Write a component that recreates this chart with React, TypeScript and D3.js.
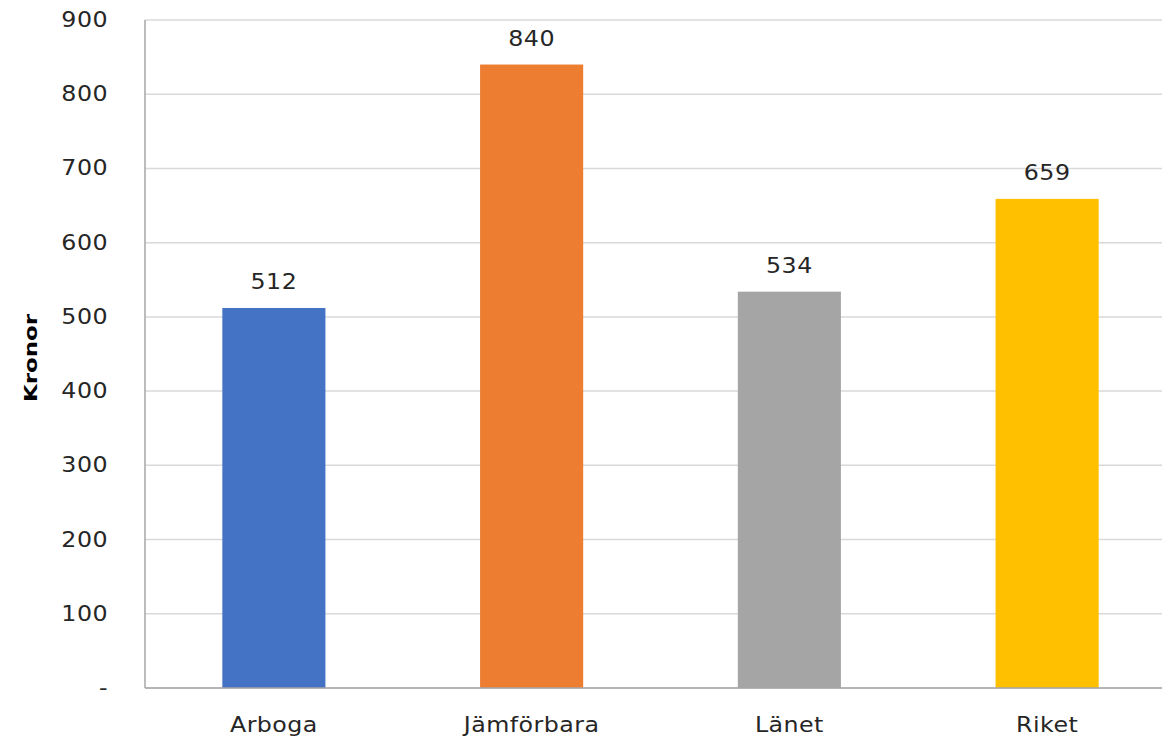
import React from "react";
import * as d3 from "d3";

const categories = ["Arboga", "Jämförbara", "Länet", "Riket"];
const values = [512, 840, 534, 659];
const colors = ["#4472C4", "#ED7D31", "#A5A5A5", "#FFC000"];
const yTicks = [0, 100, 200, 300, 400, 500, 600, 700, 800, 900];
const yLabel = "Kronor";

const W = 1162;
const H = 737;
const left = 145;
const right = 1176;
const top = 20;
const bottom = 688;
const SX = 1.13;
const FONT = "'DejaVu Sans', Verdana, sans-serif";

export default function App() {
  const x = d3.scaleBand<string>().domain(categories).range([left, right]).paddingInner(0.6).paddingOuter(0.3);
  const y = d3.scaleLinear().domain([0, 900]).range([bottom, top]);
  const fmt = (v: number) => (v === 0 ? "-" : d3.format("d")(v));

  const txt = (tx: number, ty: number, s: string, anchor: string, key: string, size = 21) => (
    <text
      key={key}
      transform={`translate(${tx},${ty}) scale(${SX},1)`}
      textAnchor={anchor}
      fontFamily={FONT}
      fontSize={size}
      letterSpacing={0.4}
      fill="#262626"
    >
      {s}
    </text>
  );

  return (
    <svg width={W} height={H} style={{ position: "absolute", left: 0, top: 0, background: "#fff" }}>
      {yTicks.map((t) => (
        <line key={"g" + t} x1={left} x2={W} y1={y(t)} y2={y(t)} stroke="#d9d9d9" strokeWidth={1.5} />
      ))}
      {categories.map((c, i) => (
        <rect key={c} x={x(c)!} width={x.bandwidth()} y={y(values[i])} height={bottom - y(values[i])} fill={colors[i]} />
      ))}
      <line x1={left} x2={left} y1={top} y2={bottom} stroke="#a6a6a6" strokeWidth={1.5} />
      <line x1={left} x2={W} y1={bottom} y2={bottom} stroke="#a6a6a6" strokeWidth={1.5} />
      {yTicks.map((t) => txt(108, y(t) + 7, fmt(t), "end", "t" + t))}
      {categories.map((c) => txt(x(c)! + x.bandwidth() / 2, 732, c, "middle", "x" + c))}
      {categories.map((c, i) => txt(x(c)! + x.bandwidth() / 2, y(values[i]) - 19, fmt(values[i]), "middle", "v" + c))}
      <text
        transform={`translate(37,358) rotate(-90)`}
        textAnchor="middle"
        fontFamily={FONT}
        fontWeight="bold"
        fontSize={17}
        textLength={88}
        lengthAdjust="spacingAndGlyphs"
        fill="#000"
      >
        {yLabel}
      </text>
    </svg>
  );
}
